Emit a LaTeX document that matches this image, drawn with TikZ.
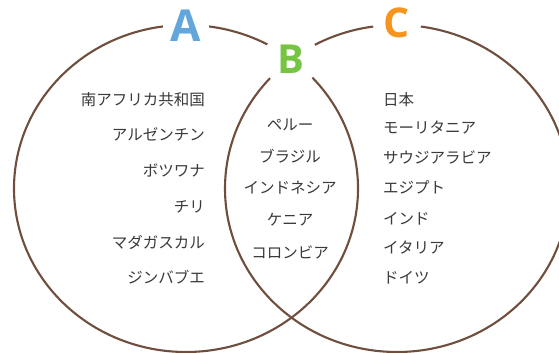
\documentclass[tikz,border=0pt]{standalone}
\usepackage{fontspec}
\newfontfamily\jpfont{Noto Sans CJK JP}
\newfontfamily\labfont{Open Sans}
\definecolor{ring}{HTML}{6F4E3D}
\definecolor{txt}{HTML}{3A3A3A}
\definecolor{colA}{HTML}{62A6DC}
\definecolor{colB}{HTML}{77C443}
\definecolor{colC}{HTML}{F7941E}
\tikzset{
  ringline/.style={draw=ring, line width=2.1pt},
  item/.style={font=\jpfont\fontsize{15.5}{15.5}\selectfont, text=txt, inner sep=0pt, text height=12pt, text depth=1pt},
  leftitem/.style={item, anchor=east},
  rightitem/.style={item, anchor=west},
  miditem/.style={item, anchor=center},
  setlabel/.style={font=\labfont\bfseries\fontsize{#1}{#1}\selectfont, inner sep=0pt, anchor=center},
  gap/.style={fill=white, draw=none}
}
\begin{document}
\begin{tikzpicture}[x=1pt,y=-1pt]
\useasboundingbox (0,0) rectangle (559,353);
\fill[white] (0,0) rectangle (559,353);
% rings
\draw[ringline] (186,188.5) ellipse [x radius=172, y radius=163.5];
\draw[ringline] (397,188.5) ellipse [x radius=172, y radius=163.5];
% gaps behind labels
\fill[gap] (186,26) circle (23);
\fill[gap] (291,59.5) circle (28);
\fill[gap] (397,24) circle (24);
% labels
\node[setlabel=44, text=colA] (la) at (186,26) {A};
\node[setlabel=40, text=colB] (lb) at (291,59.5) {B};
\node[setlabel=41, text=colC] (lc) at (397,23) {C};
% left set
\node[leftitem] (a1) at (205,100) {南アフリカ共和国};
\node[leftitem] (a2) at (205,135) {アルゼンチン};
\node[leftitem] (a3) at (205,171) {ボツワナ};
\node[leftitem] (a4) at (205,207) {チリ};
\node[leftitem] (a5) at (205,243) {マダガスカル};
\node[leftitem] (a6) at (205,278) {ジンバブエ};
% middle
\node[miditem] (b1) at (290,125) {ペルー};
\node[miditem] (b2) at (290,157) {ブラジル};
\node[miditem] (b3) at (290,188) {インドネシア};
\node[miditem] (b4) at (290,220) {ケニア};
\node[miditem] (b5) at (290,253) {コロンビア};
% right set
\node[rightitem] (c1) at (383,100) {日本};
\node[rightitem] (c2) at (383,128) {モーリタニア};
\node[rightitem] (c3) at (383,158) {サウジアラビア};
\node[rightitem] (c4) at (383,188) {エジプト};
\node[rightitem] (c5) at (383,219) {インド};
\node[rightitem] (c6) at (383,248) {イタリア};
\node[rightitem] (c7) at (383,278) {ドイツ};
\end{tikzpicture}
\end{document}
